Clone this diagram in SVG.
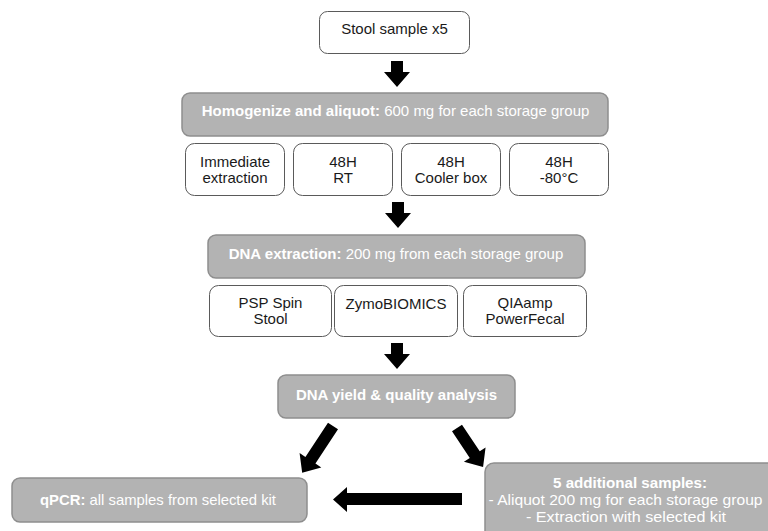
<svg xmlns="http://www.w3.org/2000/svg" width="768" height="531" viewBox="0 0 768 531">
<style>
.wbox{fill:#ffffff;stroke:#5a5a5a;stroke-width:1}
.gbox{fill:#b3b3b3;stroke:#8e8e8e;stroke-width:1.5}
.dt{font-family:"Liberation Sans",Arial,sans-serif;font-size:15px;fill:#1a1a1a;text-anchor:middle}
.wt{font-family:"Liberation Sans",Arial,sans-serif;font-size:15px;fill:#ffffff;text-anchor:middle}
.b{font-weight:bold}
.arr{fill:#000000}
</style>
<rect width="768" height="531" fill="#ffffff"/>
<g id="stool">
<rect class="wbox" x="319.5" y="11.5" width="150" height="42" rx="8"/>
<text class="dt" x="394.5" y="34">Stool sample x5</text>
</g>
<g id="homogenize">
<rect class="gbox" x="182" y="93" width="426" height="43" rx="8"/>
<text class="wt" x="395.5" y="116"><tspan class="b">Homogenize and aliquot:</tspan> 600 mg for each storage group</text>
</g>
<g id="immediate">
<rect class="wbox" x="185.5" y="143.5" width="99" height="52" rx="9"/>
<text class="dt" x="235" y="167">Immediate</text>
<text class="dt" x="235" y="183">extraction</text>
</g>
<g id="rt">
<rect class="wbox" x="293.5" y="143.5" width="99" height="52" rx="9"/>
<text class="dt" x="343" y="167">48H</text>
<text class="dt" x="343" y="183">RT</text>
</g>
<g id="cooler">
<rect class="wbox" x="401.5" y="143.5" width="99" height="52" rx="9"/>
<text class="dt" x="451" y="167">48H</text>
<text class="dt" x="451" y="183">Cooler box</text>
</g>
<g id="minus80">
<rect class="wbox" x="509.5" y="143.5" width="99" height="52" rx="9"/>
<text class="dt" x="559" y="167">48H</text>
<text class="dt" x="559" y="183">-80°C</text>
</g>
<g id="extraction">
<rect class="gbox" x="208" y="235" width="377" height="43" rx="8"/>
<text class="wt" x="396" y="259"><tspan class="b">DNA extraction:</tspan> 200 mg from each storage group</text>
</g>
<g id="psp">
<rect class="wbox" x="209.5" y="285.5" width="122" height="51" rx="9"/>
<text class="dt" x="270.5" y="308">PSP Spin</text>
<text class="dt" x="270.5" y="324">Stool</text>
</g>
<g id="zymo">
<rect class="wbox" x="334.5" y="285.5" width="123" height="51" rx="9"/>
<text class="dt" x="396" y="309">ZymoBIOMICS</text>
</g>
<g id="qiaamp">
<rect class="wbox" x="463.5" y="285.5" width="123" height="51" rx="9"/>
<text class="dt" x="525" y="308">QIAamp</text>
<text class="dt" x="525" y="324">PowerFecal</text>
</g>
<g id="yield">
<rect class="gbox" x="278" y="375" width="237" height="43" rx="8"/>
<text class="wt b" x="396.5" y="400">DNA yield &amp; quality analysis</text>
</g>
<g id="qpcr">
<rect class="gbox" x="12" y="478" width="295" height="44" rx="8"/>
<text class="wt" x="158" y="505" textLength="236" lengthAdjust="spacingAndGlyphs"><tspan class="b">qPCR:</tspan> all samples from selected kit</text>
</g>
<g id="additional">
<rect class="gbox" x="485" y="463" width="300" height="80" rx="9"/>
<text class="wt b" x="630" y="488" textLength="154" lengthAdjust="spacingAndGlyphs">5 additional samples:</text>
<text class="wt" x="625.5" y="505" textLength="274" lengthAdjust="spacingAndGlyphs">- Aliquot 200 mg for each storage group</text>
<text class="wt" x="626" y="522" textLength="200" lengthAdjust="spacingAndGlyphs">- Extraction with selected kit</text>
</g>
<g id="connectors">
<path class="arr" d="M391,61 H403 V72 H410 L397,87 L384,72 H391 Z"/>
<path class="arr" d="M392,202 H404 V213 H411 L398,228 L385,213 H392 Z"/>
<path class="arr" d="M391,343 H403 V354 H410 L397,369 L384,354 H391 Z"/>
<path class="arr" transform="translate(333,426) rotate(33.4)" d="M-6,0 H6 V41 H13 L0,56 L-13,41 H-6 Z"/>
<path class="arr" transform="translate(457,428) rotate(-33.7)" d="M-6,0 H6 V32 H13 L0,47 L-13,32 H-6 Z"/>
<path class="arr" d="M462,493 V505 H347 V512 L333,499.5 L347,487 V493 Z"/>
</g>
</svg>
